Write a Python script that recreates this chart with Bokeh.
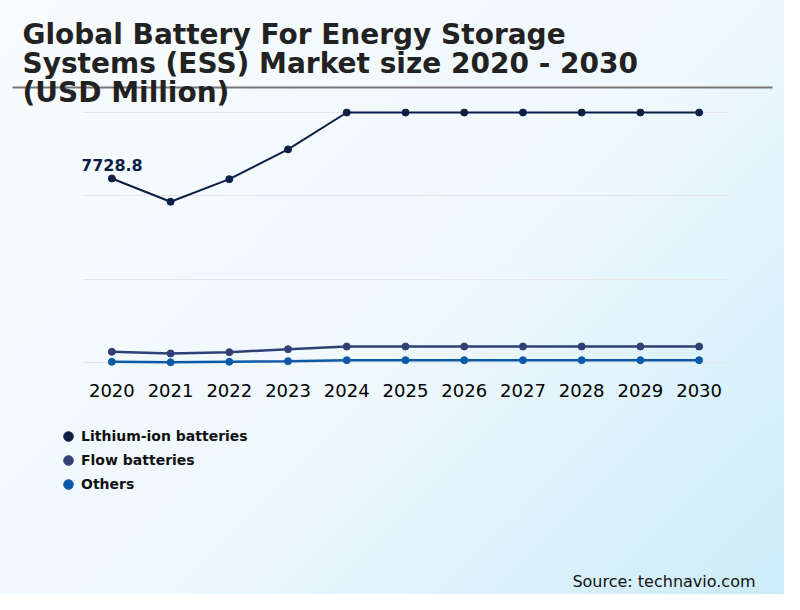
from bokeh.plotting import figure
from bokeh.layouts import column
from bokeh.models import (FactorRange, Range1d, FixedTicker, Label, BoxAnnotation,
                          ColumnDataSource)
from bokeh.embed import file_html
from bokeh.resources import INLINE
from bokeh.core.properties import value

# ---- data ----
years = ["2020", "2021", "2022", "2023", "2024", "2025", "2026", "2027", "2028", "2029", "2030"]
lithium_ion = [7728.8, 6750, 7700, 8950, 10500, 10500, 10500, 10500, 10500, 10500, 10500]
flow_batteries = [450, 380, 435, 560, 672, 672, 672, 672, 672, 672, 672]
others = [30, 10, 30, 55, 97, 97, 97, 97, 97, 97, 97]
series_names = ["Lithium-ion batteries", "Flow batteries", "Others"]
series_colors = ["#0b1f46", "#2e4074", "#0c5aa7"]
grid_values = [0, 3500, 7000, 10500]
title_lines = ["Global Battery For Energy Storage",
               "Systems (ESS) Market size 2020 - 2030",
               "(USD Million)"]
source_text = "Source: technavio.com"
series_values = [lithium_ion, flow_batteries, others]

W = 784
H_TOP, H_MAIN, H_BOT = 108, 304, 182


def style_blank(f):
    f.title.visible = False
    f.background_fill_alpha = 0
    f.border_fill_alpha = 0
    f.outline_line_color = None
    f.grid.visible = False
    return f


# ---- title block ----
top = style_blank(figure(width=W, height=H_TOP, output_backend="svg", toolbar_location=None,
                         x_range=Range1d(0, W), y_range=Range1d(H_TOP, 0),
                         x_axis_type=None, y_axis_type=None, min_border=0,
                         min_border_left=0, min_border_right=0, min_border_top=0,
                         min_border_bottom=0, frame_align=False))
top.add_layout(BoxAnnotation(left=12, right=772, top=86, bottom=88,
                             fill_color="#777777", fill_alpha=1, line_color=None))
for i, line in enumerate(title_lines):
    top.add_layout(Label(x=22, y=34 + 29 * i, text=line, text_font="DejaVu Sans",
                         text_font_style="bold", text_font_size="28px",
                         text_color="#222222", text_baseline="middle",
                         text_align="left"))

# ---- main chart ----
p = figure(width=W, height=H_MAIN, output_backend="svg", toolbar_location=None,
           x_range=FactorRange(*years, range_padding=0),
           y_range=Range1d(-336, 10668),
           min_border_left=82, min_border_right=56,
           min_border_top=0, min_border_bottom=42, frame_align=False)
p.title.visible = False
p.background_fill_alpha = 0
p.border_fill_alpha = 0
p.outline_line_color = None
p.yaxis.visible = False
p.ygrid.ticker = FixedTicker(ticks=grid_values)
p.ygrid.grid_line_color = "#e6e6e6"
p.ygrid.grid_line_width = 1
p.xgrid.grid_line_color = None

xa = p.xaxis[0]
xa.axis_line_color = None
xa.major_tick_line_color = None
xa.minor_tick_line_color = None
xa.major_tick_in = 0
xa.major_tick_out = 0
xa.major_label_standoff = 13
xa.major_label_text_font = "DejaVu Sans"
xa.major_label_text_font_size = "18px"
xa.major_label_text_color = "#000000"

for vals, col, lw in zip(series_values, series_colors, [2, 2.5, 2.5]):
    src = ColumnDataSource(dict(x=years, y=vals))
    p.line("x", "y", source=src, line_color=col, line_width=lw)
    p.scatter("x", "y", source=src, size=7, fill_color=col, line_color=col)

lab_src = ColumnDataSource(dict(x=[years[0]], y=[lithium_ion[0]], t=[f"{lithium_ion[0]:.1f}"]))
p.text("x", "y", text="t", source=lab_src, text_align="center", text_baseline="alphabetic",
       y_offset=-13, text_font=value("DejaVu Sans"), text_font_style="bold",
       text_font_size="16px", text_color="#0b1f46")

# ---- legend + source block ----
bot = style_blank(figure(width=W, height=H_BOT, output_backend="svg", toolbar_location=None,
                         x_range=FactorRange(*years, range_padding=0), y_range=Range1d(0, 1),
                         x_axis_type=None, y_axis_type=None, min_border=0,
                         min_border_left=0, min_border_right=0, min_border_top=0,
                         min_border_bottom=0, frame_align=False))
for vals, name, col in zip(series_values, series_names, series_colors):
    r = bot.scatter(x=years, y=vals, size=10, fill_color=col, line_color=col,
                    legend_label=name)
    r.visible = False
leg = bot.legend[0]
leg.location = (56, 98)
leg.background_fill_alpha = 0
leg.border_line_color = None
leg.inactive_fill_alpha = 0
leg.padding = 0
leg.margin = 0
leg.spacing = 0
leg.glyph_width = 24
leg.glyph_height = 24
leg.label_height = 14
leg.label_standoff = 1
leg.label_text_font = "DejaVu Sans"
leg.label_text_font_style = "bold"
leg.label_text_font_size = "14px"
leg.label_text_color = "#111111"
leg.label_text_baseline = "middle"

bot.add_layout(Label(x=755, y=13, x_units="screen", y_units="screen", text=source_text,
                     text_font="DejaVu Sans", text_font_size="16px", text_color="#111111",
                     text_align="right", text_baseline="middle"))

layout = column(top, p, bot, spacing=0)
layout.styles = {"background": "linear-gradient(135deg, #f9fcfe 0%, #eff8fd 55%, #cbecf9 100%)"}

open("out.html", "w").write(file_html(layout, INLINE))
